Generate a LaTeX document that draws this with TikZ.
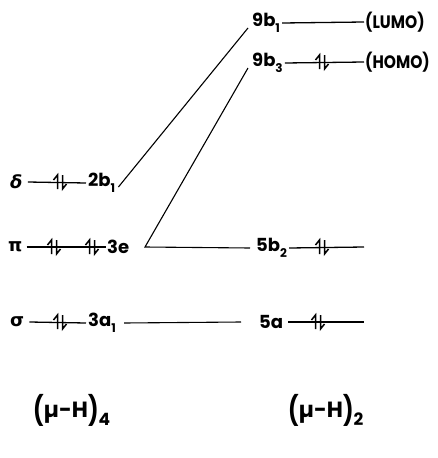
\documentclass[tikz,border=0pt]{standalone}
\usepackage{fontspec}
\setmainfont{Poppins}
\newfontfamily\grk{DejaVu Sans}
\newcommand\lsub[1]{\raisebox{-0.36em}{\fontsize{12}{12}\selectfont #1}}
\newcommand\tallpar[1]{\raisebox{-0.12em}{\scalebox{1}[1.3]{#1}}}
\newcommand\narrow[1]{\scalebox{0.86}[1]{#1}}
\tikzset{
  lbl/.style={inner sep=0pt,anchor=west,font=\fontsize{18}{18}\selectfont\bfseries},
  big/.style={inner sep=0pt,anchor=west,font=\fontsize{22}{22}\selectfont\bfseries},
  lvl/.style={line width=1.3pt},
  corr/.style={line width=1.1pt},
  spinpair/.pic={
    \draw[line width=1.5pt] (-2.5,7) -- (-2.5,-7) -- (-6.5,-2);
    \draw[line width=1.5pt] (2.5,-7) -- (2.5,7) -- (6.5,2);
  }
}
\begin{document}
\begin{tikzpicture}[x=1pt,y=-1pt]
\useasboundingbox (0,0) rectangle (438,458);
% left column
\node[lbl] (dl) at (10,182) {\grk\itshape δ};
\node[lbl] (b21) at (88,183) {2b\lsub{1}};
\node[lbl] (pl) at (8,247) {\grk π};
\node[lbl] (e3) at (107,247) {3e};
\node[lbl] (sl) at (10,322) {\grk σ};
\node[lbl] (a31) at (88,323) {3a\lsub{1}};
% right column
\node[lbl] (b91) at (252,23) {9b\lsub{1}};
\node[lbl] (lumo) at (365,22) {\narrow{(LUMO)}};
\node[lbl] (b93) at (252,63) {9b\lsub{3}};
\node[lbl] (homo) at (365,62) {\narrow{(HOMO)}};
\node[lbl] (b52) at (256,248) {5b\lsub{2}};
\coordinate (b52r) at (364,247);
\node[lbl] (a5) at (259,322) {5a};
\coordinate (a5r) at (364,322);
% bottom
\node[big] (h4) at (33,410) {\tallpar{(}µ-H\tallpar{)}\lsub{\fontsize{17}{17}\selectfont 4}};
\node[big] (h2) at (288,410) {\tallpar{(}µ-H\tallpar{)}\lsub{\fontsize{17}{17}\selectfont 2}};
% levels
\draw[lvl] ([xshift=5pt]dl.east) -- ([xshift=-2pt]b21.west);
\pic at (60,182) {spinpair};
\draw[lvl] ([xshift=4pt]pl.east) -- ([xshift=-1pt]e3.west);
\pic at (54,247) {spinpair};
\pic at (92,247) {spinpair};
\draw[lvl] ([xshift=5pt]sl.east) -- ([xshift=-2pt]a31.west);
\pic at (60,322) {spinpair};
\draw[lvl] ([xshift=2pt]b91.east) -- ([xshift=-1pt]lumo.west);
\draw[lvl] ([xshift=2pt]b93.east) -- ([xshift=-1pt]homo.west);
\pic at (322,62) {spinpair};
\draw[lvl] ([xshift=2pt]b52.east) -- (b52r);
\pic at (322,247) {spinpair};
\draw[lvl] ([xshift=5pt]a5.east) -- (a5r);
\pic at (318,322) {spinpair};
% correlation lines
\coordinate (v) at (145,247);
\draw[corr] ([shift={(3pt,-4pt)}]b21.east) -- ([shift={(-4pt,-5pt)}]b91.west);
\draw[corr] ([shift={(-4pt,-5pt)}]b93.west) -- (v) -- ([xshift=-6pt]b52.west);
\draw[corr] ([xshift=8pt]a31.east) -- ([xshift=-18pt]a5.west);
\end{tikzpicture}
\end{document}
